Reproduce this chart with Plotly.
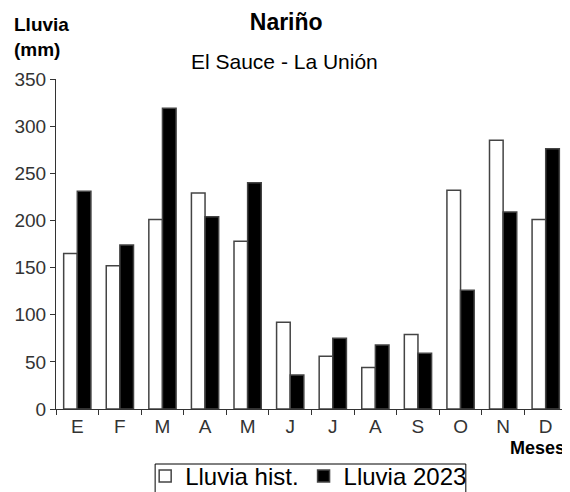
import plotly.graph_objects as go

meses = ["E", "F", "M", "A", "M ", "J", "J ", "A ", "S", "O", "N", "D"]
etiquetas = ["E", "F", "M", "A", "M", "J", "J", "A", "S", "O", "N", "D"]
lluvia_hist = [165, 152, 201, 229, 178, 92, 56, 44, 79, 232, 285, 201]
lluvia_2023 = [231, 174, 319, 204, 240, 36, 75, 68, 59, 126, 209, 276]

font_family = "Liberation Sans, Arial, sans-serif"

fig = go.Figure()
fig.add_trace(go.Bar(
    x=meses, y=lluvia_hist, name="Lluvia hist.",
    marker=dict(color="white", line=dict(color="#444", width=1.5))
))
fig.add_trace(go.Bar(
    x=meses, y=lluvia_2023, name="Lluvia 2023",
    marker=dict(color="black", line=dict(color="#444", width=1.5))
))

# page has an 8px body margin, so the figure is a bit smaller than the window
fig.update_layout(
    width=562, height=484,
    margin=dict(l=48, r=3, t=71, b=83),
    plot_bgcolor="white", paper_bgcolor="white",
    font=dict(family=font_family, color="#333", size=19),
    barmode="group", bargap=0.36, bargroupgap=0,
    title=dict(text="<b>Nariño</b>", xref="container", x=0.495, xanchor="center",
               y=1 - 14 / 484, yanchor="middle",
               font=dict(size=23, color="black")),
    legend=dict(orientation="h", xref="container", x=0.535, xanchor="center",
                yref="container", y=0.0785, yanchor="top",
                borderwidth=0, bgcolor="rgba(0,0,0,0)",
                font=dict(size=24, color="black"),
                itemwidth=30, traceorder="normal"),
)

fig.update_xaxes(
    type="category", tickvals=meses, ticktext=etiquetas,
    tickson="boundaries", ticks="outside", ticklen=5, tickcolor="#333",
    showline=True, linecolor="#333", linewidth=1, showgrid=False,
    tickfont=dict(size=19, color="#333"),
)
fig.update_yaxes(
    range=[0, 350], dtick=50, ticks="outside", ticklen=5, tickcolor="#333",
    showline=True, linecolor="#333", linewidth=1, showgrid=False, zeroline=False,
    tickfont=dict(size=19, color="#333"),
)

# legend frame, runs off the bottom edge like the original
fig.add_shape(type="rect", xref="paper", yref="paper",
              x0=0.194, x1=0.802, y0=-0.1667, y1=-0.32,
              line=dict(color="black", width=1), fillcolor="rgba(0,0,0,0)")

fig.add_annotation(text="<b>Lluvia<br>(mm)</b>", xref="paper", yref="paper",
                   x=-0.086, y=1.203, xanchor="left", yanchor="top", align="left",
                   showarrow=False, font=dict(size=19, color="black"))
fig.add_annotation(text="El Sauce - La Unión", xref="paper", yref="paper",
                   x=0.448, y=(401 - 53) / 330, xanchor="center", yanchor="middle",
                   showarrow=False, font=dict(size=21, color="black"))
fig.add_annotation(text="<b>Meses</b>", xref="paper", yref="paper",
                   x=1.0, y=-0.118, xanchor="right", yanchor="middle",
                   showarrow=False, font=dict(size=18, color="black"))

fig.write_html("out.html")
